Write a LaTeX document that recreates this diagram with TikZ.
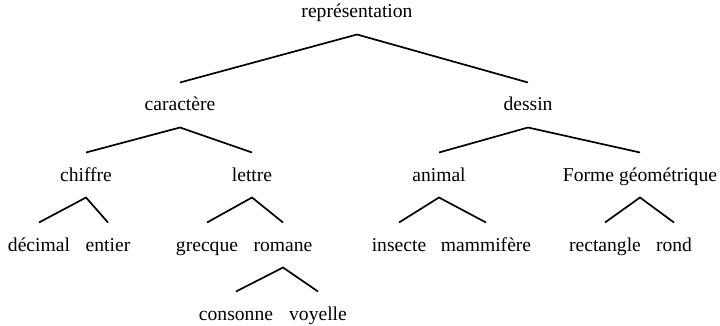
\documentclass[tikz,border=0pt]{standalone}
\usepackage{fontspec}
\setmainfont{Liberation Serif}
\begin{document}
\begin{tikzpicture}[x=1pt, y=-1pt,
  word/.style={font=\fontsize{19.6pt}{23pt}\selectfont, inner sep=0pt, anchor=base},
  branch/.style={line width=1.7pt, line join=miter}]
\useasboundingbox (0,0) rectangle (720,326);

% labels, placed on their baselines
\node[word] (rep)  at (357,18)  {représentation};
\node[word] (car)  at (180,111) {caractère};
\node[word] (des)  at (528,111) {dessin};
\node[word] (chi)  at (86,181)  {chiffre};
\node[word] (let)  at (252,181) {lettre};
\node[word] (ani)  at (439,181) {animal};
\node[word] (for)  at (640,181) {Forme géométrique};
\node[word] (dec)  at (39,251)  {décimal};
\node[word] (ent)  at (108,251) {entier};
\node[word] (gre)  at (207,251) {grecque};
\node[word] (rom)  at (283,251) {romane};
\node[word] (ins)  at (399,251) {insecte};
\node[word] (mam)  at (486,251) {mammifère};
\node[word] (rec)  at (605,251) {rectangle};
\node[word] (ron)  at (674,251) {rond};
\node[word] (con)  at (236,320) {consonne};
\node[word] (voy)  at (318,320) {voyelle};

% branches: left child -> parent -> right child
\newcommand{\fork}[3]{%
  \draw[branch] ([yshift=28.5pt]#2.base) -- ([yshift=-16.5pt]#1.base) -- ([yshift=28.5pt]#3.base);}
\fork{rep}{car}{des}
\fork{car}{chi}{let}
\fork{des}{ani}{for}
\fork{chi}{dec}{ent}
\fork{let}{gre}{rom}
\fork{ani}{ins}{mam}
\fork{for}{rec}{ron}
\fork{rom}{con}{voy}
\end{tikzpicture}
\end{document}
